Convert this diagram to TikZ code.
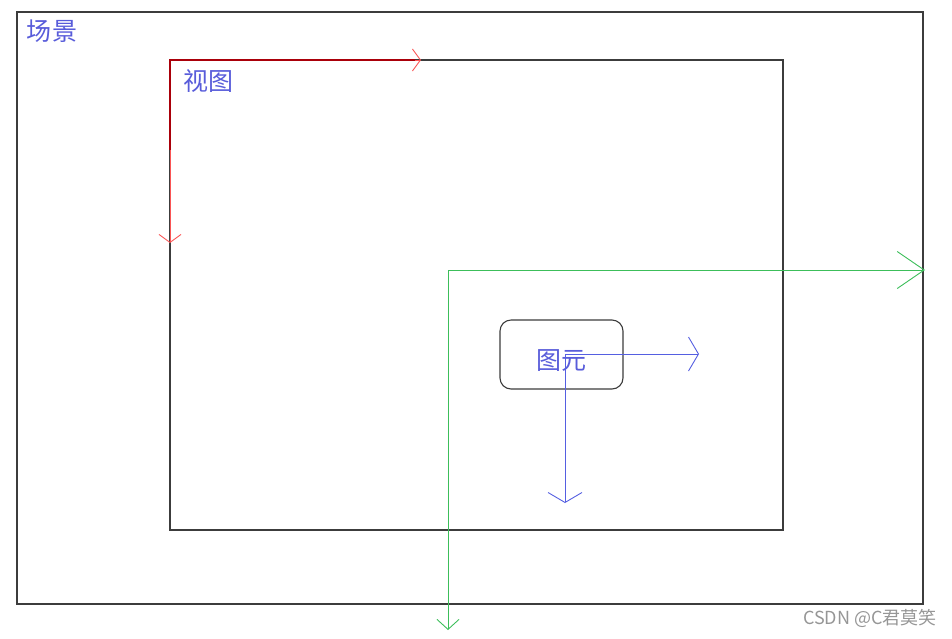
\documentclass[tikz,border=0pt]{standalone}
\usepackage{fontspec}
\newfontfamily\cjk{Noto Sans CJK SC}
\usetikzlibrary{arrows.meta, positioning}
\definecolor{framegray}{RGB}{60,60,60}
\definecolor{labelblue}{RGB}{88,92,218}
\definecolor{axisred}{RGB}{250,85,85}
\definecolor{axisdarkred}{RGB}{170,0,10}
\definecolor{axisgreen}{RGB}{60,190,90}
\definecolor{axisblue}{RGB}{85,95,225}
\definecolor{markgray}{RGB}{150,150,150}

\begin{document}
\begin{tikzpicture}[x=1pt, y=-1pt,
    frame/.style={rectangle, draw=framegray, line width=1.3pt, inner sep=0pt, outer sep=0pt, anchor=north west},
    itembox/.style={rectangle, rounded corners=11pt, draw=framegray, line width=1.1pt, minimum width=123pt, minimum height=69pt, inner sep=0pt, outer sep=0pt},
    title/.style={inner sep=0pt, text=labelblue, font=\cjk\fontsize{25}{25}\selectfont},
    redaxis/.style={-{Straight Barb[length=8pt, width=22pt]}, color=axisred, line width=0.9pt},
    greenaxis/.style={-{Straight Barb[length=#1]}, color=axisgreen, line width=0.9pt},
    blueaxis/.style={-{Straight Barb[length=10pt, width=34pt]}, color=axisblue, line width=0.9pt}
]
\useasboundingbox (0,0) rectangle (952,638);
\node[frame, minimum width=906pt, minimum height=592pt] (scene) at (17,12) {};
\node[frame, minimum width=613pt, minimum height=470pt] (view) at (170,60) {};
\node[title] (sceneLabel) at (52,31) {场景};
\node[title] (viewLabel) at (208,81) {视图};
\node[itembox] (item) at (561.5,354.5) {};
\node[title] (itemLabel) at (561,361) {图元};

% view axes
\coordinate (viewO) at (170,60);
\coordinate (viewX) at (421,60);
\coordinate (viewY) at (170,243);
\coordinate (viewMid) at (170,150);
\draw[redaxis] (viewO) -- (viewX);
\draw[redaxis] (viewO) -- (viewY);
\draw[axisdarkred, line width=1.6pt] (viewMid) -- (viewO) -- ([xshift=-6pt]viewX);

% scene axes
\coordinate (sceneO) at (448,270);
\coordinate (sceneX) at (925,270);
\coordinate (sceneY) at (448,630);
\draw[greenaxis={27pt, width=37pt}] (sceneO) -- (sceneX);
\draw[greenaxis={10pt, width=22pt}] (sceneO) -- (sceneY);

% item axes
\coordinate (itemO) at (565,354);
\coordinate (itemX) at (699,354);
\coordinate (itemY) at (565,503);
\draw[blueaxis] (itemO) -- (itemX);
\draw[blueaxis] (itemO) -- (itemY);

\node[text=markgray, font=\fontsize{18}{18}\selectfont\cjk, anchor=east, inner sep=0pt] (mark) at (937,618) {CSDN @C君莫笑};
\end{tikzpicture}
\end{document}
